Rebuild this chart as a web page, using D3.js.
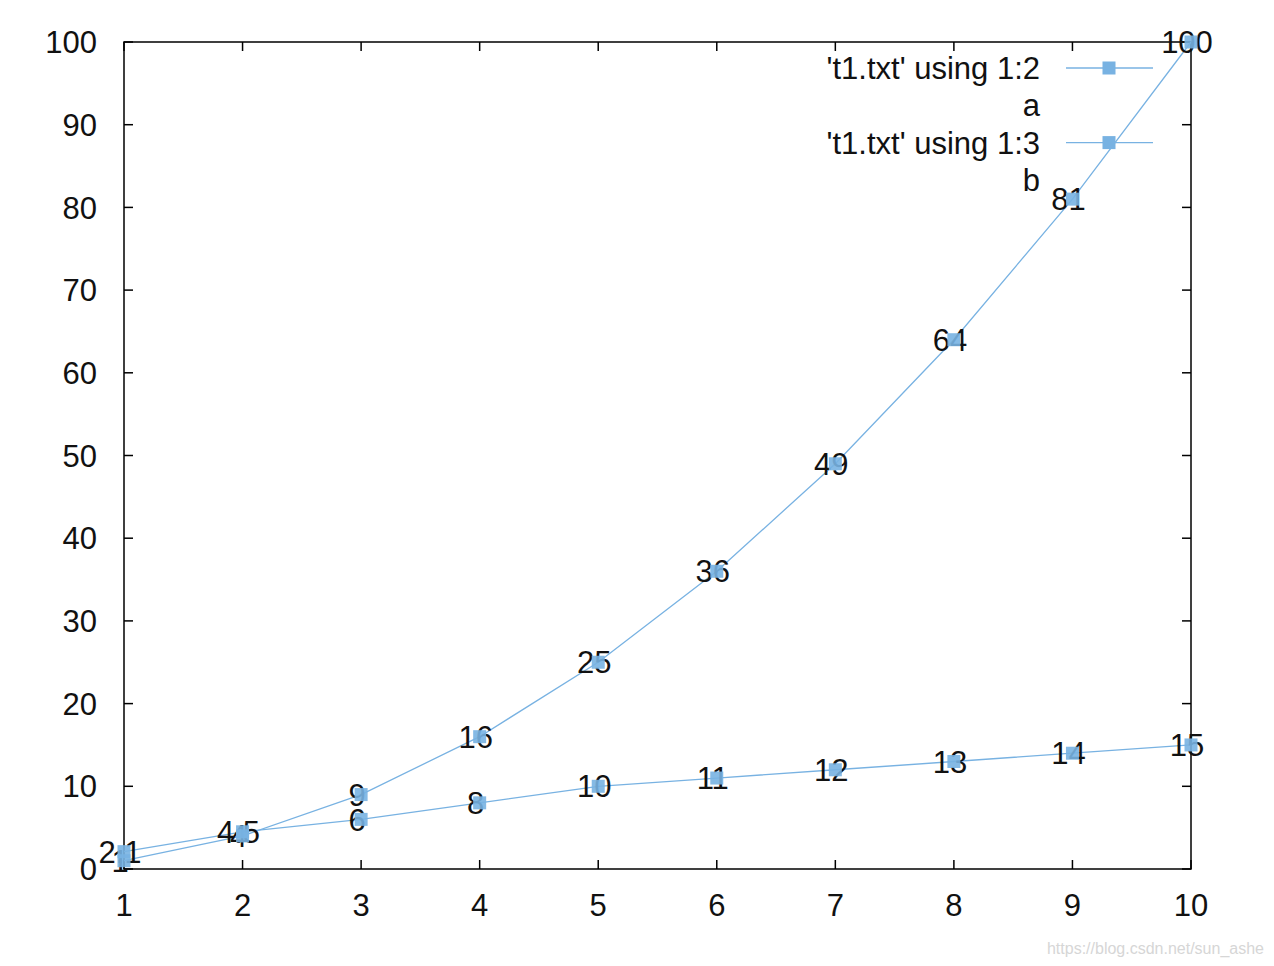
<!DOCTYPE html>
<html>
<head>
<meta charset="utf-8">
<script src="https://cdn.jsdelivr.net/npm/d3@7"></script>
<style>
  body { margin: 0; background: #fff; }
  svg { display: block; }
</style>
</head>
<body>
<div id="chart"></div>
<script>
// data
const xs = [1, 2, 3, 4, 5, 6, 7, 8, 9, 10];
const col2 = [1, 4, 9, 16, 25, 36, 49, 64, 81, 100];
const col3 = [2.1, 4.5, 6, 8, 10, 11, 12, 13, 14, 15];
const seriesNames = ["'t1.txt' using 1:2", "'t1.txt' using 1:3"];
const seriesTitles = ["a", "b"];
const xTicks = [1, 2, 3, 4, 5, 6, 7, 8, 9, 10];
const yTicks = [0, 10, 20, 30, 40, 50, 60, 70, 80, 90, 100];

const width = 1274, height = 966;
const plotL = 124, plotR = 1191, plotT = 42, plotB = 869;
const blue = "#78b2e2";
const font = "'Liberation Sans', Arial, sans-serif";
const fs = 31;

const x = d3.scaleLinear().domain([1, 10]).range([plotL, plotR]);
const y = d3.scaleLinear().domain([0, 100]).range([plotB, plotT]);

const svg = d3.select("#chart").append("svg")
    .attr("width", width)
    .attr("height", height)
    .attr("font-family", font);

// ticks, gnuplot style: inward and mirrored
const tl = 9;
const axes = svg.append("g").attr("stroke", "#000").attr("stroke-width", 1.5);
xTicks.forEach(t => {
  axes.append("line").attr("x1", x(t)).attr("x2", x(t)).attr("y1", plotB).attr("y2", plotB - tl);
  axes.append("line").attr("x1", x(t)).attr("x2", x(t)).attr("y1", plotT).attr("y2", plotT + tl);
});
yTicks.forEach(t => {
  axes.append("line").attr("x1", plotL).attr("x2", plotL + tl).attr("y1", y(t)).attr("y2", y(t));
  axes.append("line").attr("x1", plotR).attr("x2", plotR - tl).attr("y1", y(t)).attr("y2", y(t));
});
axes.append("rect")
    .attr("x", plotL).attr("y", plotT)
    .attr("width", plotR - plotL).attr("height", plotB - plotT)
    .attr("fill", "none");

svg.append("g")
  .selectAll("text")
  .data(xTicks)
  .join("text")
    .attr("x", d => x(d))
    .attr("y", plotB + 47)
    .attr("text-anchor", "middle")
    .attr("font-size", fs)
    .attr("fill", "#111")
    .text(d => d);

svg.append("g")
  .selectAll("text")
  .data(yTicks)
  .join("text")
    .attr("x", plotL - 27)
    .attr("y", d => y(d))
    .attr("dy", "0.36em")
    .attr("text-anchor", "end")
    .attr("font-size", fs)
    .attr("fill", "#111")
    .text(d => d);

const line = d3.line().x(d => x(d[0])).y(d => y(d[1]));
const series = [col2, col3].map(vals => xs.map((v, i) => [v, vals[i]]));

series.forEach(pts => {
  svg.append("path")
      .datum(pts)
      .attr("fill", "none")
      .attr("stroke", blue)
      .attr("stroke-width", 1.3)
      .attr("d", line);
});

// point labels
series.forEach(pts => {
  svg.append("g")
    .selectAll("text")
    .data(pts)
    .join("text")
      .attr("x", d => x(d[0]) - 4)
      .attr("y", d => y(d[1]))
      .attr("dy", "0.36em")
      .attr("text-anchor", "middle")
      .attr("font-size", fs)
      .attr("fill", "#111")
      .text(d => d[1]);
});

// markers
const ms = 13;
series.forEach(pts => {
  svg.append("g")
    .selectAll("rect")
    .data(pts)
    .join("rect")
      .attr("x", d => x(d[0]) - ms / 2)
      .attr("y", d => y(d[1]) - ms / 2)
      .attr("width", ms)
      .attr("height", ms)
      .attr("fill", blue)
      .attr("fill-opacity", 0.9);
});

// key
const rows = [
  {text: seriesNames[0], sample: true},
  {text: seriesTitles[0], sample: false},
  {text: seriesNames[1], sample: true},
  {text: seriesTitles[1], sample: false}
];
const key = svg.append("g");
rows.forEach((r, i) => {
  const ry = 68 + i * 37.3;
  key.append("text")
      .attr("x", 1040)
      .attr("y", ry)
      .attr("dy", "0.36em")
      .attr("text-anchor", "end")
      .attr("font-size", fs)
      .attr("fill", "#111")
      .text(r.text);
  if (r.sample) {
    key.append("line")
        .attr("x1", 1066).attr("x2", 1153)
        .attr("y1", ry).attr("y2", ry)
        .attr("stroke", blue).attr("stroke-width", 1.3);
    key.append("rect")
        .attr("x", 1109 - ms / 2).attr("y", ry - ms / 2)
        .attr("width", ms).attr("height", ms)
        .attr("fill", blue);
  }
});

// watermark
svg.append("text")
    .attr("x", 1264)
    .attr("y", 954)
    .attr("text-anchor", "end")
    .attr("font-size", 16)
    .attr("fill", "#d6d6d6")
    .text("https://blog.csdn.net/sun_ashe");
</script>
</body>
</html>
